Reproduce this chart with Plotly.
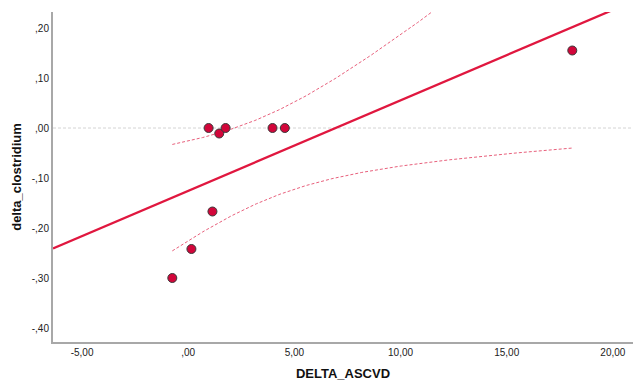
import numpy as np
import plotly.graph_objects as go

# Data
delta_ascvd = [-0.75, 0.15, 0.96, 1.14, 1.46, 1.76, 3.97, 4.55, 18.09]
delta_clostridium = [-0.30, -0.242, 0.0, -0.167, -0.011, 0.0, 0.0, 0.0, 0.155]

x_ticks = [-5, 0, 5, 10, 15, 20]
x_tick_labels = ["-5,00", ",00", "5,00", "10,00", "15,00", "20,00"]
y_ticks = [0.2, 0.1, 0.0, -0.1, -0.2, -0.3, -0.4]
y_tick_labels = [",20", ",10", ",00", "-,10", "-,20", "-,30", "-,40"]

x_range = [-6.37, 20.95]
y_range = [-0.428, 0.232]
fit_x_span = [-6.37, 19.9]
t_crit = 2.365  # t(0.975, df=7)

x = np.array(delta_ascvd)
y = np.array(delta_clostridium)
n = len(x)
slope, intercept = np.polyfit(x, y, 1)
resid = y - (intercept + slope * x)
s = np.sqrt(np.sum(resid ** 2) / (n - 2))
sxx = np.sum((x - x.mean()) ** 2)

fx = np.array(fit_x_span)
fy = intercept + slope * fx

cx = np.linspace(x.min(), x.max(), 200)
cy = intercept + slope * cx
half = t_crit * s * np.sqrt(1.0 / n + (cx - x.mean()) ** 2 / sxx)

line_col = "#e0173f"
fig = go.Figure()

# reference line at y = 0
fig.add_trace(go.Scatter(x=x_range, y=[0, 0], mode="lines",
                         line=dict(color="#d4d4d4", width=1, dash="3px,2px"),
                         hoverinfo="skip", showlegend=False))
# CI lines
for sign in (1, -1):
    fig.add_trace(go.Scatter(x=cx, y=cy + sign * half, mode="lines",
                             line=dict(color="#e8607c", width=1, dash="3px,2px"),
                             showlegend=False))
# fit line
fig.add_trace(go.Scatter(x=fx, y=fy, mode="lines",
                         line=dict(color=line_col, width=2.3),
                         showlegend=False))
# points
fig.add_trace(go.Scatter(x=delta_ascvd, y=delta_clostridium, mode="markers",
                         marker=dict(color="#d2063a", size=9,
                                     line=dict(color="#3a3a3a", width=1)),
                         showlegend=False))

fig.update_layout(
    width=633, height=385,
    margin=dict(l=53, r=0, t=12, b=43),
    paper_bgcolor="white", plot_bgcolor="white",
    font=dict(family="Liberation Sans, Arial, sans-serif", size=10, color="#222"),
)
fig.update_xaxes(range=x_range, tickvals=x_ticks, ticktext=x_tick_labels,
                 showgrid=False, zeroline=False, showline=True, automargin=False,
                 linecolor="#a8a8a8", linewidth=2, ticks="",
                 tickfont=dict(size=10, color="#222"),
                 title=dict(text="<b>DELTA_ASCVD</b>", font=dict(size=13, color="#111"),
                            standoff=12))
fig.update_yaxes(range=y_range, tickvals=y_ticks, ticktext=y_tick_labels,
                 showgrid=False, zeroline=False, showline=True, automargin=False,
                 linecolor="#a8a8a8", linewidth=2, ticks="",
                 tickfont=dict(size=10, color="#222"),
                 title=dict(text="<b>delta_clostridium</b>", font=dict(size=13, color="#111"),
                            standoff=7))

fig.write_html("out.html", config={"displayModeBar": False},
               post_script="document.body.style.margin='0';")
